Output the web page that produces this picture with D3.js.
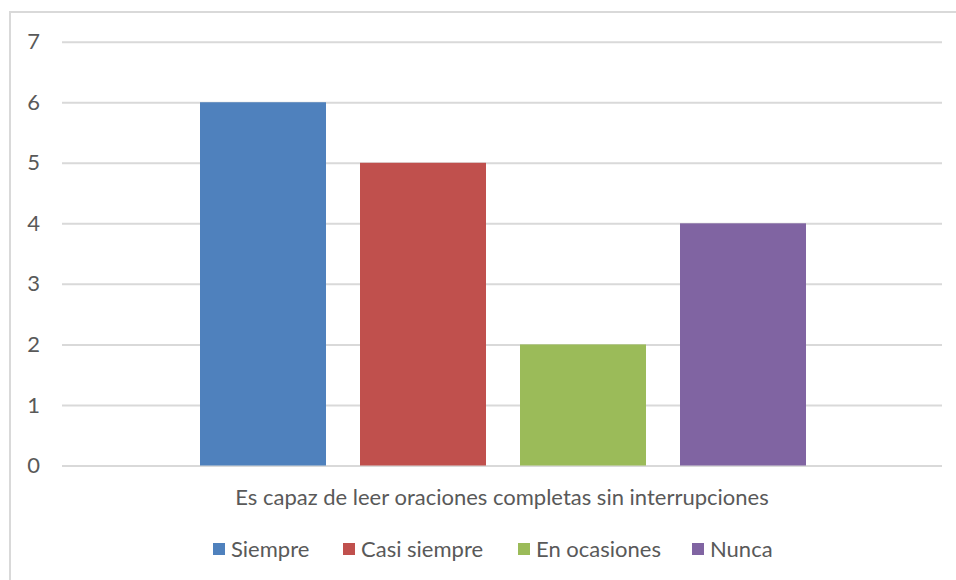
<!DOCTYPE html>
<html>
<head>
<meta charset="utf-8">
<script src="https://cdn.jsdelivr.net/npm/d3@7"></script>
<style>
  html, body { margin: 0; padding: 0; background: #fff; }
  svg text { font-family: Lato, "Open Sans", sans-serif; fill: #595959; }
</style>
</head>
<body>
<svg id="chart" width="956" height="580"></svg>
<script>
// Chart data
const category = "Es capaz de leer oraciones completas sin interrupciones";
const seriesNames = ["Siempre", "Casi siempre", "En ocasiones", "Nunca"];
const seriesValues = [6, 5, 2, 4];
const seriesColors = ["#4F81BD", "#C0504D", "#9BBB59", "#8064A2"];
const yTicks = [0, 1, 2, 3, 4, 5, 6, 7];

const svg = d3.select("#chart");
const W = 956, H = 580;
const fontSize = 22;

// Outer chart frame
svg.append("rect")
  .attr("x", 10).attr("y", 12)
  .attr("width", W + 10).attr("height", H + 10)
  .attr("fill", "#fff")
  .attr("stroke", "#d9d9d9").attr("stroke-width", 2);

const plot = { left: 62, right: 942, top: 41.7, bottom: 465.5 };

const y = d3.scaleLinear().domain([0, 7]).range([plot.bottom, plot.top]);

// Category band holding the single group of bars
const x0 = d3.scaleBand().domain([category]).range([plot.left, plot.right]).paddingInner(0).paddingOuter(0);
const groupInset = 138;
const x1 = d3.scaleBand()
  .domain(seriesNames)
  .range([x0(category) + groupInset, x0(category) + x0.bandwidth() - groupInset + 2])
  .paddingInner(34 / 160)
  .paddingOuter(0);

// Horizontal gridlines and value labels
const yAxis = d3.axisLeft(y).tickValues(yTicks).tickSize(-(plot.right - plot.left)).tickFormat(d3.format("d")).tickPadding(22);
const gAxis = svg.append("g").attr("transform", `translate(${plot.left},0)`).call(yAxis);
gAxis.select(".domain").remove();
gAxis.selectAll(".tick line").attr("stroke", "#d9d9d9").attr("stroke-width", 2);
gAxis.selectAll(".tick text").attr("font-size", fontSize).attr("font-family", null).style("fill", "#595959");

// Bars
svg.append("g").selectAll("rect")
  .data(seriesNames.map((name, i) => ({ name, value: seriesValues[i], color: seriesColors[i] })))
  .join("rect")
  .attr("x", d => x1(d.name))
  .attr("y", d => y(d.value))
  .attr("width", x1.bandwidth())
  .attr("height", d => y(0) - y(d.value))
  .attr("fill", d => d.color);

// Category axis label
svg.append("text")
  .attr("x", x0(category) + x0.bandwidth() / 2)
  .attr("y", 497)
  .attr("dy", "0.35em")
  .attr("text-anchor", "middle")
  .attr("font-size", fontSize)
  .text(category);

// Legend
const legend = svg.append("g").attr("transform", "translate(0,549)");
const legendX = [213, 343, 518, 692];
const items = legend.selectAll("g")
  .data(seriesNames.map((name, i) => ({ name, color: seriesColors[i], x: legendX[i] })))
  .join("g")
  .attr("transform", d => `translate(${d.x},0)`);
items.append("rect").attr("x", 0).attr("y", -6).attr("width", 12).attr("height", 12).attr("fill", d => d.color);
items.append("text").attr("x", 18).attr("y", 0).attr("dy", "0.35em").attr("font-size", fontSize).text(d => d.name);
</script>
</body>
</html>
